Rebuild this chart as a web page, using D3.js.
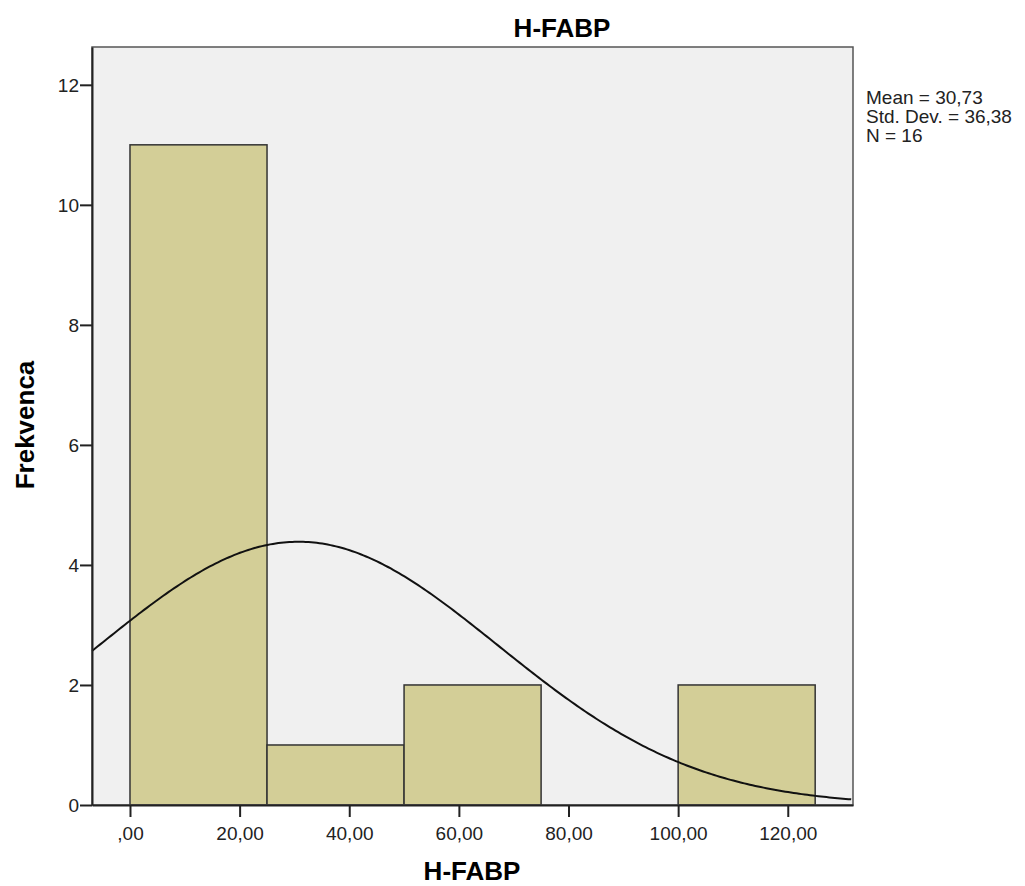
<!DOCTYPE html>
<html>
<head>
<meta charset="utf-8">
<script src="https://cdn.jsdelivr.net/npm/d3@7"></script>
<style>
  body { margin: 0; background: #fff; }
  svg { display: block; font-family: "Liberation Sans", Arial, sans-serif; }
</style>
</head>
<body>
<svg id="chart"></svg>
<script>
// histogram bins (lower edge, upper edge) and counts
var binStarts = [0, 25, 50, 75, 100];
var binEnds = [25, 50, 75, 100, 125];
var counts = [11, 1, 2, 0, 2];
var xTicks = [0, 20, 40, 60, 80, 100, 120];
var yTicks = [0, 2, 4, 6, 8, 10, 12];
var stats = ["Mean = 30,73", "Std. Dev. = 36,38", "N = 16"];
var mean = 30.73, sd = 36.38, n = 16, binWidth = 25;

var svgWidth = 1025, svgHeight = 886;
var margin = { top: 47, right: 172, bottom: 81, left: 92 };
var width = svgWidth - margin.left - margin.right;
var height = svgHeight - margin.top - margin.bottom;

var x = d3.scaleLinear().domain([-6.93, 131.9]).range([0, width]);
var y = d3.scaleLinear().domain([0, 12.63]).range([height, 0]);

var svg = d3.select("#chart")
    .attr("width", svgWidth)
    .attr("height", svgHeight);
var g = svg.append("g")
    .attr("transform", "translate(" + margin.left + "," + margin.top + ")");

g.append("rect")
    .attr("width", width)
    .attr("height", height)
    .attr("fill", "#f0f0f0");

var bins = counts.map(function(c, i) {
  return { x0: binStarts[i], x1: binEnds[i], count: c };
}).filter(function(d) { return d.count > 0; });

g.selectAll(".bar")
    .data(bins)
    .enter().append("rect")
    .attr("class", "bar")
    .attr("x", function(d) { return x(d.x0); })
    .attr("y", function(d) { return y(d.count); })
    .attr("width", function(d) { return x(d.x1) - x(d.x0); })
    .attr("height", function(d) { return y(0) - y(d.count); })
    .attr("fill", "#d3ce97")
    .attr("stroke", "#333")
    .attr("stroke-width", 1.5);

// normal curve scaled to the histogram
var curvePts = d3.range(x.domain()[0], x.domain()[1] + 0.01, 0.5).map(function(v) {
  var z = (v - mean) / sd;
  return { v: v, f: n * binWidth / (sd * Math.sqrt(2 * Math.PI)) * Math.exp(-0.5 * z * z) };
});
var line = d3.line()
    .x(function(d) { return x(d.v); })
    .y(function(d) { return y(d.f); });
g.append("path")
    .datum(curvePts)
    .attr("fill", "none")
    .attr("stroke", "#111")
    .attr("stroke-width", 2)
    .attr("d", line);

// frame
g.append("rect")
    .attr("width", width)
    .attr("height", height)
    .attr("fill", "none")
    .attr("stroke", "#555")
    .attr("stroke-width", 1.5);

var xAxis = g.append("g")
    .attr("transform", "translate(0," + height + ")")
    .call(d3.axisBottom(x).tickValues(xTicks).tickSize(12).tickSizeOuter(0)
      .tickFormat(function(d) { return d === 0 ? ",00" : d3.format(".2f")(d).replace(".", ","); }));
var yAxis = g.append("g")
    .call(d3.axisLeft(y).tickValues(yTicks).tickSize(12).tickSizeOuter(0));

[xAxis, yAxis].forEach(function(ax) {
  ax.select(".domain").attr("stroke", "#222").attr("stroke-width", 2);
  ax.selectAll(".tick line").attr("stroke", "#222").attr("stroke-width", 2);
  ax.selectAll(".tick text")
      .attr("fill", "#222")
      .style("font-size", "19px")
      .style("font-family", "'Liberation Sans', Arial, sans-serif");
});
xAxis.selectAll(".tick text").attr("dy", "1.05em");
yAxis.selectAll(".tick text").attr("x", -13).attr("dy", "0.36em");

svg.append("text")
    .attr("x", 562)
    .attr("y", 37)
    .attr("text-anchor", "middle")
    .style("font-size", "26px")
    .style("font-weight", "bold")
    .text("H-FABP");

svg.append("text")
    .attr("x", 472)
    .attr("y", 880)
    .attr("text-anchor", "middle")
    .style("font-size", "26px")
    .style("font-weight", "bold")
    .text("H-FABP");

svg.append("text")
    .attr("transform", "translate(34,425) rotate(-90)")
    .attr("text-anchor", "middle")
    .style("font-size", "26px")
    .style("font-weight", "bold")
    .text("Frekvenca");

svg.selectAll(".stat")
    .data(stats)
    .enter().append("text")
    .attr("class", "stat")
    .attr("x", 866)
    .attr("y", function(d, i) { return 104 + i * 19; })
    .attr("fill", "#222")
    .style("font-size", "19px")
    .text(function(d) { return d; });
</script>
</body>
</html>
